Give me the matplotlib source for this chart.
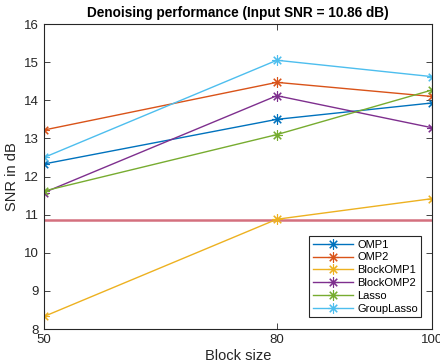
import matplotlib
matplotlib.use("Agg")
import matplotlib.pyplot as plt

block_sizes = [50, 80, 100]
input_snr = 10.86

omp1 = [12.33, 13.50, 13.93]
omp2 = [13.22, 14.47, 14.10]
block_omp1 = [8.33, 10.88, 11.42]
block_omp2 = [11.58, 14.12, 13.28]
lasso = [11.62, 13.10, 14.27]
group_lasso = [12.50, 15.05, 14.62]

labels = ["OMP1", "OMP2", "BlockOMP1", "BlockOMP2", "Lasso", "GroupLasso"]
colors = ["#0072BD", "#D95319", "#EDB120", "#7E2F8E", "#77AC30", "#4DBEEE"]

plt.rcParams['font.family'] = ['Liberation Sans', 'DejaVu Sans']

fig = plt.figure(figsize=(4.4, 3.64), dpi=100)
ax = fig.add_axes([0.1, 0.096, 0.882, 0.838])

# input SNR reference line
ax.axhline(input_snr, color="#D4707E", lw=1.8, zorder=1)

for series, label, color in zip([omp1, omp2, block_omp1, block_omp2, lasso, group_lasso],
                                labels, colors):
    ax.plot(block_sizes, series, marker=(8, 2, 0), markersize=7.5, markeredgewidth=0.8,
            color=color, lw=1.0, label=label)

ax.set_xlim(50, 100)
ax.set_ylim(8, 16)
ax.set_xticks(block_sizes)
ax.set_yticks(range(8, 17))
ax.tick_params(direction="in", top=True, right=True, labelsize=9.5, colors="#262626",
               length=4, width=0.6)
for s in ax.spines.values():
    s.set_color("#262626")
    s.set_linewidth(0.8)

ax.set_xlabel("Block size", fontsize=10.5, color="#262626", labelpad=2)
ax.set_ylabel("SNR in dB", fontsize=10.5, color="#262626", labelpad=4)
ax.set_title("Denoising performance (Input SNR = 10.86 dB)", fontsize=9.8,
             fontweight="bold", pad=5)

leg = ax.legend(loc="lower right", fontsize=8, fancybox=False, framealpha=1,
                edgecolor="#262626", bbox_to_anchor=(0.972, 0.04), borderaxespad=0,
                handlelength=3.6, labelspacing=0.25, borderpad=0.3, handletextpad=0.4)
leg.get_frame().set_linewidth(0.8)

fig.savefig("out.png", dpi=100)
